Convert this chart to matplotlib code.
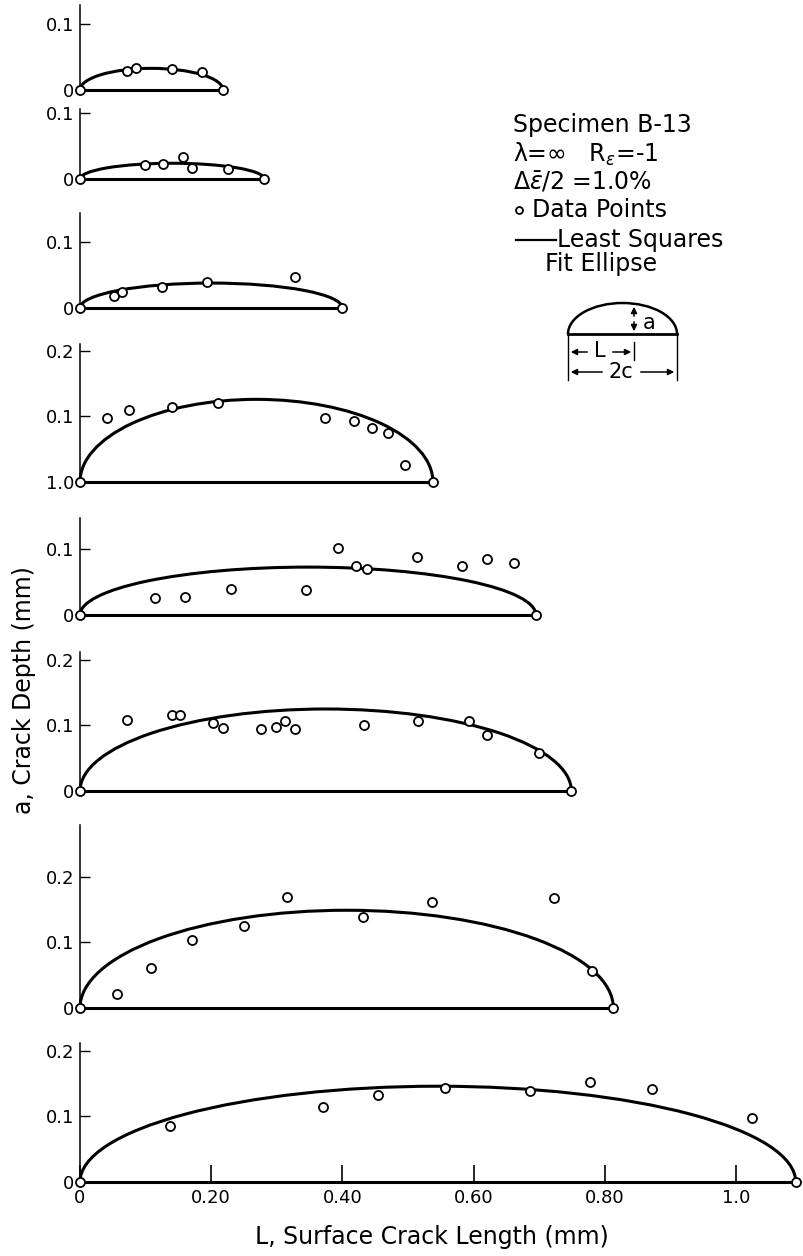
import numpy as np
import matplotlib
matplotlib.use("Agg")
import matplotlib.pyplot as plt
from matplotlib.patches import Arc
from matplotlib.lines import Line2D

# crack profiles, one panel per inspection (L in mm, a in mm)
L1 = [0, 0.071, 0.086, 0.141, 0.186, 0.218]
a1 = [0, 0.029, 0.034, 0.032, 0.028, 0]
L2 = [0, 0.099, 0.127, 0.157, 0.171, 0.225, 0.281]
a2 = [0, 0.021, 0.023, 0.033, 0.017, 0.015, 0]
L3 = [0, 0.052, 0.064, 0.125, 0.194, 0.328, 0.400]
a3 = [0, 0.018, 0.025, 0.032, 0.039, 0.047, 0]
L4 = [0, 0.041, 0.074, 0.141, 0.210, 0.374, 0.418, 0.445, 0.469, 0.496, 0.538]
a4 = [0, 0.098, 0.109, 0.114, 0.120, 0.097, 0.093, 0.082, 0.075, 0.026, 0]
L5 = [0, 0.114, 0.160, 0.230, 0.344, 0.393, 0.421, 0.437, 0.514, 0.582, 0.621, 0.661, 0.695]
a5 = [0, 0.026, 0.027, 0.039, 0.038, 0.102, 0.074, 0.070, 0.089, 0.075, 0.086, 0.079, 0]
L6 = [0, 0.072, 0.140, 0.153, 0.202, 0.218, 0.276, 0.299, 0.313, 0.327, 0.433, 0.515, 0.593, 0.621, 0.700, 0.749]
a6 = [0, 0.108, 0.116, 0.116, 0.103, 0.096, 0.095, 0.098, 0.107, 0.095, 0.100, 0.106, 0.106, 0.086, 0.058, 0]
L7 = [0, 0.057, 0.108, 0.170, 0.250, 0.315, 0.432, 0.537, 0.723, 0.780, 0.813]
a7 = [0, 0.022, 0.061, 0.103, 0.125, 0.169, 0.138, 0.161, 0.168, 0.057, 0]
L8 = [0, 0.137, 0.371, 0.455, 0.557, 0.686, 0.778, 0.872, 1.024, 1.091]
a8 = [0, 0.086, 0.115, 0.132, 0.143, 0.138, 0.152, 0.142, 0.097, 0]

# least squares ellipse: surface length 2c and depth a
fit_2c = [0.218, 0.281, 0.400, 0.538, 0.695, 0.749, 0.813, 1.091]
fit_a = [0.033, 0.024, 0.038, 0.126, 0.073, 0.125, 0.149, 0.146]

ytick_vals = [[0, 0.1], [0, 0.1], [0, 0.1], [0, 0.1, 0.2], [0, 0.1],
              [0, 0.1, 0.2], [0, 0.1, 0.2], [0, 0.1, 0.2]]
ytick_labels = [["0", "0.1"], ["0", "0.1"], ["0", "0.1"], ["1.0", "0.1", "0.2"],
                ["0", "0.1"], ["0", "0.1", "0.2"], ["0", "0.1", "0.2"], ["0", "0.1", "0.2"]]
xtick_vals = [0, 0.2, 0.4, 0.6, 0.8, 1.0]
xtick_labels = ["0", "0.20", "0.40", "0.60", "0.80", "1.0"]

Ls = [L1, L2, L3, L4, L5, L6, L7, L8]
As = [a1, a2, a3, a4, a5, a6, a7, a8]

# layout in pixels
W, H = 804, 1256
S = 656.0          # px per mm, same both ways
x0 = 80
zero_px = [90, 179, 308, 482, 615, 791, 1008, 1182]
ytop = [0.13, 0.107, 0.145, 0.21, 0.148, 0.212, 0.279, 0.212]
xmax = 1.1

fig = plt.figure(figsize=(W / 100, H / 100), dpi=100)

for i in range(8):
    hgt = ytop[i] * S
    ax = fig.add_axes([x0 / W, (H - zero_px[i]) / H, xmax * S / W, hgt / H])
    ax.set_xlim(0, xmax)
    ax.set_ylim(0, ytop[i])
    ax.patch.set_alpha(0)
    for s in ["top", "right"]:
        ax.spines[s].set_visible(False)
    ax.spines["bottom"].set_bounds(0, fit_2c[i])
    ax.spines["bottom"].set_linewidth(2.2)
    ax.spines["left"].set_linewidth(1.1)

    c = fit_2c[i] / 2
    ax.add_patch(Arc((c, 0), fit_2c[i], 2 * fit_a[i], theta1=0, theta2=180,
                     lw=2.2, color="black", clip_on=False))
    ax.plot(Ls[i], As[i], "o", ms=6.5, mfc="white", mec="black", mew=1.3,
            clip_on=False, zorder=5)

    ax.set_yticks(ytick_vals[i])
    ax.set_yticklabels(ytick_labels[i])
    ax.tick_params(axis="y", direction="in", length=7, width=1, labelsize=13, pad=4)
    if i == 7:
        ax.set_xticks(xtick_vals)
        ax.set_xticklabels(xtick_labels)
        ax.tick_params(axis="x", direction="in", length=12, width=1.2, labelsize=13, pad=5)
    else:
        ax.set_xticks([])

# overlay in pixel coordinates for labels, key and sketch
ov = fig.add_axes([0, 0, 1, 1])
ov.set_xlim(0, W)
ov.set_ylim(H, 0)
ov.axis("off")
ov.patch.set_alpha(0)

fs = 17
ov.text(432, 1237, "L, Surface Crack Length (mm)", fontsize=fs, ha="center", va="center")
ov.text(24, 690, "a, Crack Depth (mm)", fontsize=fs, ha="center", va="center", rotation=90)

tx = 513
ov.text(tx, 125, "Specimen B-13", fontsize=fs, va="center")
ov.text(tx, 154, "λ=∞   R$_\\epsilon$=-1", fontsize=fs, va="center")
ov.text(tx, 182, "$\\Delta\\bar{\\epsilon}/2$ =1.0%", fontsize=fs, va="center")
ov.plot([519], [210], "o", ms=5, mfc="white", mec="black", mew=1.3)
ov.text(532, 210, "Data Points", fontsize=fs, va="center")
ov.plot([516, 556], [240, 240], color="black", lw=1.6)
ov.text(557, 240, "Least Squares", fontsize=fs, va="center")
ov.text(545, 264, "Fit Ellipse", fontsize=fs, va="center")

# little crack sketch
ov.add_patch(Arc((622.5, 334), 109, 62, theta1=180, theta2=360, lw=1.8, color="black"))
ov.plot([568, 677], [334, 334], color="black", lw=2)
ov.annotate("", xy=(634, 304), xytext=(634, 319),
            arrowprops=dict(arrowstyle="-|>", lw=1.1, color="black", mutation_scale=9))
ov.annotate("", xy=(634, 334), xytext=(634, 319),
            arrowprops=dict(arrowstyle="-|>", lw=1.1, color="black", mutation_scale=9))
ov.text(643, 323, "a", fontsize=15, va="center")
ov.plot([568, 568], [334, 380], color="black", lw=1)
ov.plot([677, 677], [334, 380], color="black", lw=1)
ov.plot([634, 634], [342, 360], color="black", lw=1)
ov.annotate("", xy=(568, 352), xytext=(590, 352),
            arrowprops=dict(arrowstyle="-|>", lw=1.1, color="black", mutation_scale=9))
ov.annotate("", xy=(634, 352), xytext=(610, 352),
            arrowprops=dict(arrowstyle="-|>", lw=1.1, color="black", mutation_scale=9))
ov.text(600, 351, "L", fontsize=15, ha="center", va="center")
ov.annotate("", xy=(568, 372), xytext=(605, 372),
            arrowprops=dict(arrowstyle="-|>", lw=1.1, color="black", mutation_scale=9))
ov.annotate("", xy=(677, 372), xytext=(638, 372),
            arrowprops=dict(arrowstyle="-|>", lw=1.1, color="black", mutation_scale=9))
ov.text(621, 372, "2c", fontsize=15, ha="center", va="center")

fig.savefig("out.png", dpi=100)
